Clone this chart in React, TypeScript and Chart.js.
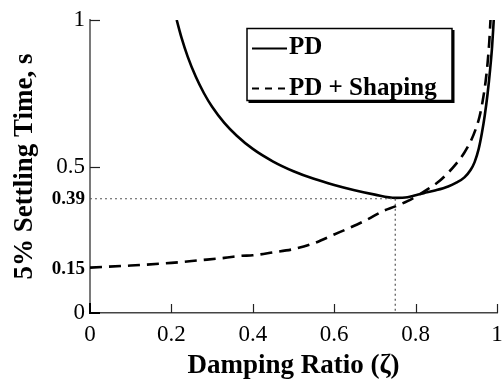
import React, { useEffect, useRef } from "react";
import { Chart, registerables } from "chart.js";

Chart.register(...registerables);

// Damping ratio (ζ) vs 5% settling time for the plain PD controller
const pdZeta = [0.213, 0.225, 0.24, 0.26, 0.28, 0.3, 0.33, 0.36, 0.4, 0.45, 0.5, 0.55, 0.6, 0.65, 0.7, 0.75, 0.78, 0.8, 0.82, 0.85, 0.88, 0.9, 0.92, 0.935, 0.945, 0.955, 0.963, 0.97, 0.977, 0.983, 0.988, 0.992];
const pdTime = [1.0, 0.939, 0.875, 0.806, 0.75, 0.704, 0.649, 0.606, 0.56, 0.517, 0.484, 0.458, 0.437, 0.419, 0.404, 0.393, 0.395, 0.402, 0.409, 0.419, 0.432, 0.445, 0.463, 0.488, 0.515, 0.56, 0.615, 0.675, 0.75, 0.83, 0.91, 1.0];

// Same controller with input shaping
const shapedZeta = [0, 0.1, 0.2, 0.27, 0.33, 0.37, 0.4, 0.45, 0.5, 0.55, 0.6, 0.64, 0.68, 0.72, 0.75, 0.78, 0.8, 0.83, 0.86, 0.9, 0.92, 0.935, 0.947, 0.957, 0.965, 0.972, 0.977, 0.981, 0.984];
const shapedTime = [0.155, 0.162, 0.171, 0.18, 0.188, 0.195, 0.197, 0.207, 0.218, 0.238, 0.268, 0.292, 0.318, 0.348, 0.364, 0.382, 0.397, 0.423, 0.452, 0.51, 0.548, 0.585, 0.625, 0.67, 0.725, 0.79, 0.855, 0.925, 1.0];

// Optimum marker: minimum PD settling time and its damping ratio
const optimumZeta = 0.75;
const optimumTime = 0.39;

const xTickValues = [0, 0.2, 0.4, 0.6, 0.8, 1];
const yTickValues = [0, 0.15, 0.39, 0.5, 1];
const yTickMarks = [0.5, 1];
const boldYTicks = [0.15, 0.39];

const seriesLabels = ["PD", "PD + Shaping"];

const FONT = "'Liberation Serif', 'Times New Roman', serif";

const toPoints = (xs: number[], ys: number[]) => xs.map((x, i) => ({ x, y: ys[i] }));

const fmt = (v: number) => String(Number(v.toFixed(2)));

const innerTicks = {
  id: "innerTicks",
  afterDatasetsDraw(chart: any) {
    const { ctx, scales, chartArea } = chart;
    const xs = scales.x;
    const ys = scales.y;
    const left = chartArea.left;
    const bottom = chartArea.bottom;
    ctx.save();
    ctx.strokeStyle = "#222";
    ctx.lineWidth = 1.2;
    xTickValues.forEach((v) => {
      if (v === 0) return;
      const px = Math.round(xs.getPixelForValue(v)) + 0.5;
      ctx.beginPath();
      ctx.moveTo(px, bottom);
      ctx.lineTo(px, bottom - 9);
      ctx.stroke();
    });
    yTickMarks.forEach((v) => {
      const py = Math.round(ys.getPixelForValue(v)) + 0.5;
      ctx.beginPath();
      ctx.moveTo(left, py);
      ctx.lineTo(left + 10, py);
      ctx.stroke();
    });
    // corner ticks at the origin
    ctx.strokeStyle = "#000";
    ctx.lineWidth = 2;
    const ox = xs.getPixelForValue(0);
    const oy = ys.getPixelForValue(0);
    ctx.beginPath();
    ctx.moveTo(ox, oy - 10);
    ctx.lineTo(ox, oy);
    ctx.lineTo(ox + 10, oy);
    ctx.stroke();
    ctx.restore();
  },
};

const boxedLegend = {
  id: "boxedLegend",
  afterDraw(chart: any) {
    const { ctx } = chart;
    const bx = 247;
    const by = 28.5;
    const bw = 205;
    const bh = 72;
    ctx.save();
    // drop shadow
    ctx.fillStyle = "#000";
    ctx.fillRect(bx + 1.5, by + 1.5, bw + 1, bh + 1);
    ctx.fillStyle = "#fff";
    ctx.fillRect(bx, by, bw, bh);
    ctx.strokeStyle = "#000";
    ctx.lineWidth = 1.5;
    ctx.strokeRect(bx, by, bw, bh);

    const rows = [48.5, 88.5];
    const baselines = [54, 95];
    const series = chart.data.datasets.filter((d: any) => seriesLabels.includes(d.label));
    series.forEach((ds: any, i: number) => {
      ctx.beginPath();
      ctx.strokeStyle = ds.borderColor;
      ctx.lineWidth = 2;
      ctx.setLineDash(ds.borderDash && ds.borderDash.length ? [7, 6] : []);
      ctx.moveTo(252, rows[i]);
      ctx.lineTo(287, rows[i]);
      ctx.stroke();
      ctx.setLineDash([]);
      ctx.fillStyle = "#000";
      ctx.font = `bold 25px ${FONT}`;
      ctx.textBaseline = "alphabetic";
      ctx.textAlign = "left";
      ctx.fillText(ds.label, 289, baselines[i]);
    });
    ctx.restore();
  },
};

export default function App() {
  const canvasRef = useRef<HTMLCanvasElement | null>(null);

  useEffect(() => {
    const canvas = canvasRef.current;
    if (!canvas) return;
    const chart = new Chart(canvas, {
      type: "line",
      data: {
        datasets: [
          {
            label: "optimum-h",
            data: [
              { x: 0, y: optimumTime },
              { x: optimumZeta, y: optimumTime },
            ],
            borderColor: "#555",
            borderWidth: 1.2,
            borderDash: [2, 3],
            pointRadius: 0,
          },
          {
            label: "optimum-v",
            data: [
              { x: optimumZeta, y: optimumTime },
              { x: optimumZeta, y: 0 },
            ],
            borderColor: "#555",
            borderWidth: 1.2,
            borderDash: [2, 3],
            pointRadius: 0,
          },
          {
            label: seriesLabels[0],
            data: toPoints(pdZeta, pdTime),
            borderColor: "#000",
            borderWidth: 2.6,
            pointRadius: 0,
            cubicInterpolationMode: "monotone",
          },
          {
            label: seriesLabels[1],
            data: toPoints(shapedZeta, shapedTime),
            borderColor: "#000",
            borderWidth: 2.6,
            borderDash: [12, 7],
            pointRadius: 0,
            cubicInterpolationMode: "monotone",
          },
        ],
      },
      options: {
        animation: false,
        responsive: false,
        parsing: false as any,
        layout: { padding: { left: 0, top: 20, right: 6, bottom: 0 } },
        plugins: {
          legend: { display: false },
          tooltip: { enabled: false },
        },
        scales: {
          x: {
            type: "linear",
            min: 0,
            max: 1,
            afterBuildTicks: (scale: any) => {
              scale.ticks = xTickValues.map((v) => ({ value: v }));
            },
            afterFit: (scale: any) => {
              scale.height = 67;
              scale.paddingLeft = 0;
              scale.paddingRight = 0;
            },
            grid: { display: false, drawTicks: false },
            border: { display: true, color: "#444", width: 1.5 },
            ticks: {
              padding: 8,
              color: "#000",
              font: { family: FONT, size: 23 },
              callback: (v: any) => fmt(Number(v)),
              maxRotation: 0,
            },
            title: {
              display: true,
              text: "Damping Ratio (ζ)",
              color: "#000",
              font: { family: FONT, size: 27, weight: "bold" },
              padding: { top: 0, bottom: -2 },
            },
          },
          y: {
            type: "linear",
            min: 0,
            max: 1,
            afterBuildTicks: (scale: any) => {
              scale.ticks = yTickValues.map((v) => ({ value: v }));
            },
            afterFit: (scale: any) => {
              scale.width = 90;
              scale.paddingTop = 0;
              scale.paddingBottom = 0;
            },
            grid: { display: false, drawTicks: false },
            border: { display: true, color: "#7a7a7a", width: 2 },
            ticks: {
              padding: 5,
              color: "#000",
              font: (c: any) =>
                c.tick && boldYTicks.includes(c.tick.value)
                  ? { family: FONT, size: 19, weight: "bold" }
                  : { family: FONT, size: 23 },
              callback: (v: any) => fmt(Number(v)),
            },
            title: {
              display: true,
              text: "5% Settling Time, s",
              color: "#000",
              font: { family: FONT, size: 27, weight: "bold" },
              padding: { top: 9, bottom: 0 },
            },
          },
        },
      },
      plugins: [innerTicks, boxedLegend],
    });
    return () => chart.destroy();
  }, []);

  return (
    <div style={{ position: "fixed", left: 0, top: 0, width: 503, height: 380, background: "#fff" }}>
      <canvas ref={canvasRef} width={503} height={380} />
    </div>
  );
}
